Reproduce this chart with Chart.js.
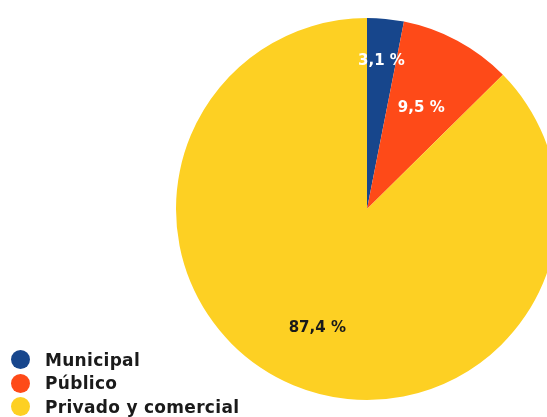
<!DOCTYPE html>
<html>
<head>
<meta charset="utf-8">
<script src="https://cdn.jsdelivr.net/npm/chart.js@4"></script>
<style>
  html, body { margin: 0; padding: 0; background: #ffffff; width: 547px; height: 417px; overflow: hidden; }
  #wrap { position: absolute; left: 0; top: 0; width: 734px; height: 418px; }
  #legend { position: absolute; left: 11px; top: 348px; font-family: "DejaVu Sans", sans-serif; font-weight: bold; font-size: 17px; letter-spacing: 0.3px; color: #1a1a1a; }
  .item { height: 23.5px; display: flex; align-items: center; white-space: nowrap; }
  .dot { width: 19px; height: 19px; border-radius: 50%; margin-right: 15px; flex: none; }
</style>
</head>
<body>
<div id="wrap"><canvas id="c" width="734" height="418"></canvas></div>
<div id="legend"></div>
<script>
const categories = ["Municipal", "Público", "Privado y comercial"];
const values = [3.1, 9.5, 87.4];
const valueLabels = ["3,1 %", "9,5 %", "87,4 %"];
const colors = ["#17468c", "#fe4a18", "#fdd023"];
const labelColors = ["#ffffff", "#ffffff", "#1a1a1a"];
const labelRadiusFrac = [0.78, 0.60, 0.675];

const sliceLabels = {
  id: "sliceLabels",
  afterDatasetsDraw(chart) {
    const ctx = chart.ctx;
    const meta = chart.getDatasetMeta(0);
    ctx.save();
    ctx.font = "bold 15px 'DejaVu Sans', sans-serif";
    ctx.textAlign = "center";
    ctx.textBaseline = "middle";
    meta.data.forEach((arc, i) => {
      const p = arc.getProps(["x", "y", "startAngle", "endAngle", "outerRadius"], true);
      const mid = (p.startAngle + p.endAngle) / 2;
      const r = p.outerRadius * labelRadiusFrac[i];
      ctx.fillStyle = labelColors[i];
      ctx.fillText(valueLabels[i], p.x + Math.cos(mid) * r, p.y + Math.sin(mid) * r);
    });
    ctx.restore();
  }
};

new Chart(document.getElementById("c"), {
  type: "pie",
  data: {
    labels: categories,
    datasets: [{
      data: values,
      backgroundColor: colors,
      borderWidth: 0,
      radius: 191
    }]
  },
  options: {
    responsive: false,
    animation: false,
    layout: { padding: 0 },
    plugins: { legend: { display: false }, tooltip: { enabled: false } }
  },
  plugins: [sliceLabels]
});

const lg = document.getElementById("legend");
categories.forEach((name, i) => {
  const row = document.createElement("div");
  row.className = "item";
  const d = document.createElement("span");
  d.className = "dot";
  d.style.background = colors[i];
  const t = document.createElement("span");
  t.textContent = name;
  row.appendChild(d);
  row.appendChild(t);
  lg.appendChild(row);
});
</script>
</body>
</html>
